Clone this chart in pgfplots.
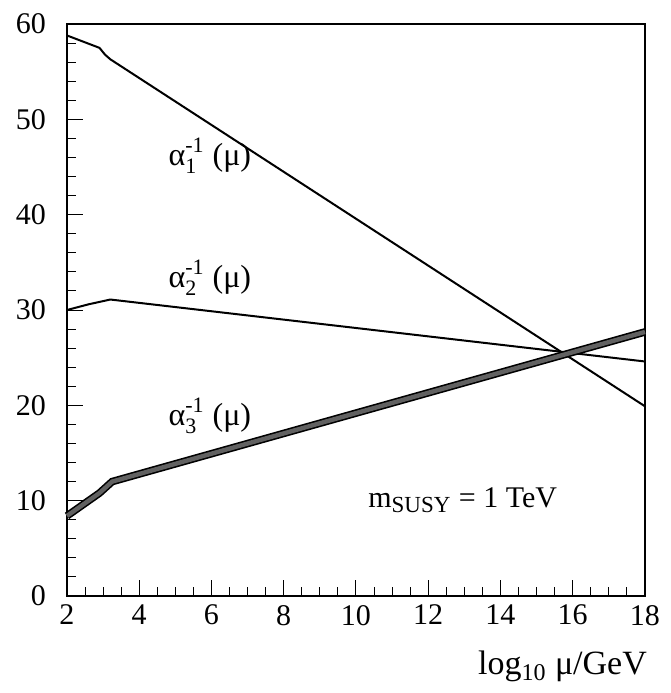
\documentclass[border=0pt]{standalone}
\usepackage{fontspec}
\setmainfont{Liberation Serif}
\usepackage{pgfplots}
\pgfplotsset{compat=1.18}
\begin{document}
\begin{tikzpicture}
\begin{axis}[
  scale only axis,
  width=289pt, height=286pt,
  xmin=2, xmax=18, ymin=0, ymax=60,
  xtick={2,4,...,18}, ytick={0,10,...,60},
  minor x tick num=3, minor y tick num=4,
  tick pos=left, tick align=inside,
  major tick length=8pt, minor tick length=4.5pt,
  tick style={line width=0.5pt, black},
  axis line style={line width=0.7pt},
  /pgf/number format/assume math mode=true,
  ticklabel style={font=\fontsize{15}{16}\selectfont},
  yticklabel style={xshift=-7pt},
  xticklabel style={yshift=-1pt},
  clip=false,
]
\path (rel axis cs:-0.1159,-0.1696) (rel axis cs:1.045,1.042);
% alpha_1
\addplot[black, line width=1pt, no marks] coordinates {(2,58.8) (2.9,57.5) (3.05,56.8) (3.2,56.3) (18,19.9)};
% alpha_2
\addplot[black, line width=1pt, no marks] coordinates {(2,30.0) (2.6,30.6) (3.2,31.1) (18,24.6)};
% alpha_3 band
\addplot[black, line width=3.8pt, no marks] coordinates {(2,8.4) (2.9,10.8) (3.25,12.0) (18,27.7)};
\addplot[black!62, line width=2.2pt, no marks] coordinates {(2,8.4) (2.9,10.8) (3.25,12.0) (18,27.7)};
\node[anchor=base west, font=\fontsize{16}{17}\selectfont, inner sep=0pt] at (axis cs:4.8,45.2) {α$_{\mbox{\fontsize{11}{12}\selectfont 1}}^{\mbox{\fontsize{11}{12}\selectfont -1}}$ (μ)};
\node[anchor=base west, font=\fontsize{16}{17}\selectfont, inner sep=0pt] at (axis cs:4.8,32.4) {α$_{\mbox{\fontsize{11}{12}\selectfont 2}}^{\mbox{\fontsize{11}{12}\selectfont -1}}$ (μ)};
\node[anchor=base west, font=\fontsize{16}{17}\selectfont, inner sep=0pt] at (axis cs:4.8,17.9) {α$_{\mbox{\fontsize{11}{12}\selectfont 3}}^{\mbox{\fontsize{11}{12}\selectfont -1}}$ (μ)};
\node[anchor=base west, font=\fontsize{15}{16}\selectfont, inner sep=0pt] at (axis cs:10.33,9.3) {m$_{\mbox{\fontsize{11.5}{12}\selectfont SUSY}}$ = 1 TeV};
\node[anchor=base east, font=\fontsize{17}{18}\selectfont, inner sep=0pt] at (rel axis cs:1.004,-0.138) {log$_{\mbox{\fontsize{12}{13}\selectfont 10}}$\ μ/GeV};
\end{axis}
\end{tikzpicture}
\end{document}
